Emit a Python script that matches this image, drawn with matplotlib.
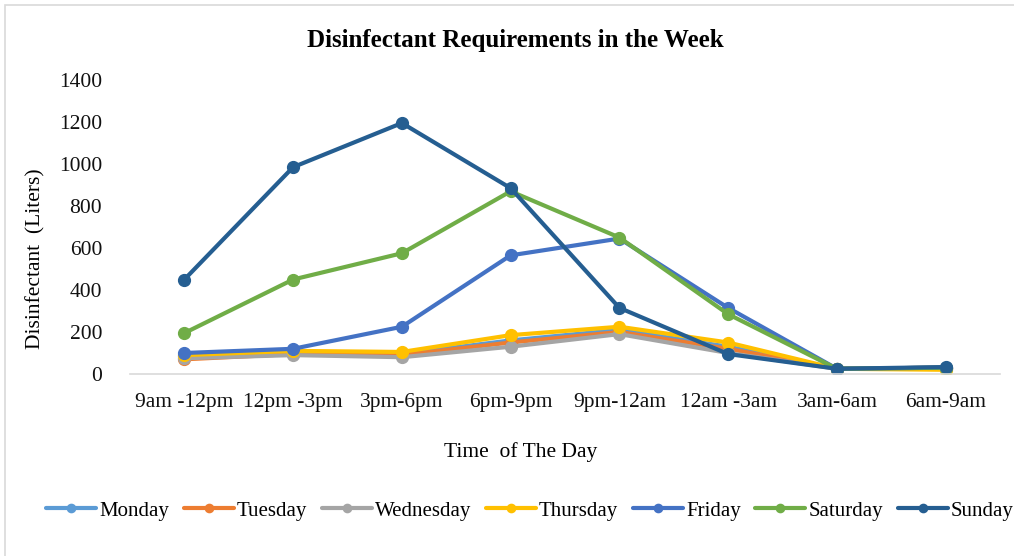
import matplotlib
matplotlib.use("Agg")
import matplotlib.pyplot as plt
from matplotlib.patches import Rectangle

slots = ["9am -12pm", "12pm -3pm", "3pm-6pm", "6pm-9pm",
         "9pm-12am", "12am -3am", "3am-6am", "6am-9am"]

monday = [85, 100, 95, 160, 210, 130, 25, 30]
tuesday = [70, 95, 90, 150, 200, 120, 25, 30]
wednesday = [75, 90, 80, 130, 190, 100, 25, 30]
thursday = [90, 110, 105, 185, 225, 150, 25, 20]
friday = [100, 120, 225, 565, 645, 315, 25, 30]
saturday = [195, 450, 575, 870, 650, 285, 25, 30]
sunday = [450, 985, 1195, 885, 315, 95, 25, 33]

days = ["Monday", "Tuesday", "Wednesday", "Thursday", "Friday", "Saturday", "Sunday"]
series = [monday, tuesday, wednesday, thursday, friday, saturday, sunday]
colors = ["#5B9BD5", "#ED7D31", "#A5A5A5", "#FFC000", "#4472C4", "#70AD47", "#255E91"]

plt.rcParams['font.family'] = ['Liberation Serif', 'DejaVu Serif']

fig = plt.figure(figsize=(10.14, 5.56), dpi=100)
ax = fig.add_axes([130 / 1014, 1 - 374 / 556, 870 / 1014, 294 / 556])

x = list(range(len(slots)))
for name, vals, c in zip(days, series, colors):
    ax.plot(x, vals, color=c, lw=3, marker='o', ms=8.5, label=name,
            solid_capstyle='round', solid_joinstyle='round')

ax.set_xlim(-0.5, len(slots) - 0.5)
ax.set_ylim(0, 1400)
ax.set_yticks(range(0, 1401, 200))
ax.set_xticks(x)
ax.set_xticklabels(slots)
ax.tick_params(axis='both', length=0, labelsize=15.5, colors='#111111')
ax.tick_params(axis='x', pad=14)
ax.tick_params(axis='y', pad=20)
for s in ['top', 'right', 'left']:
    ax.spines[s].set_visible(False)
ax.spines['bottom'].set_color('#D9D9D9')
ax.spines['bottom'].set_linewidth(1.2)

fig.text(515 / 1014, 1 - 41 / 556, "Disinfectant Requirements in the Week",
         ha='center', va='center', fontsize=18, fontweight='bold')
fig.text(36 / 1014, 1 - 259 / 556, "Disinfectant  (Liters)", rotation=90,
         ha='center', va='center', fontsize=15.5)
fig.text(521 / 1014, 1 - 452 / 556, "Time  of The Day",
         ha='center', va='center', fontsize=15.5)

fig.legend(loc='center', bbox_to_anchor=(530 / 1014, 1 - 511 / 556), ncol=7,
           frameon=False, fontsize=15, handlelength=2.4, handletextpad=0.15,
           columnspacing=0.7, markerscale=0.7)

fig.patches.append(Rectangle((5 / 1014, -0.1), 1.2, 1 - 5 / 556 + 0.1,
                             transform=fig.transFigure, fill=False,
                             edgecolor='#D9D9D9', lw=1.2))

fig.savefig("out.png", dpi=100, facecolor='white')
